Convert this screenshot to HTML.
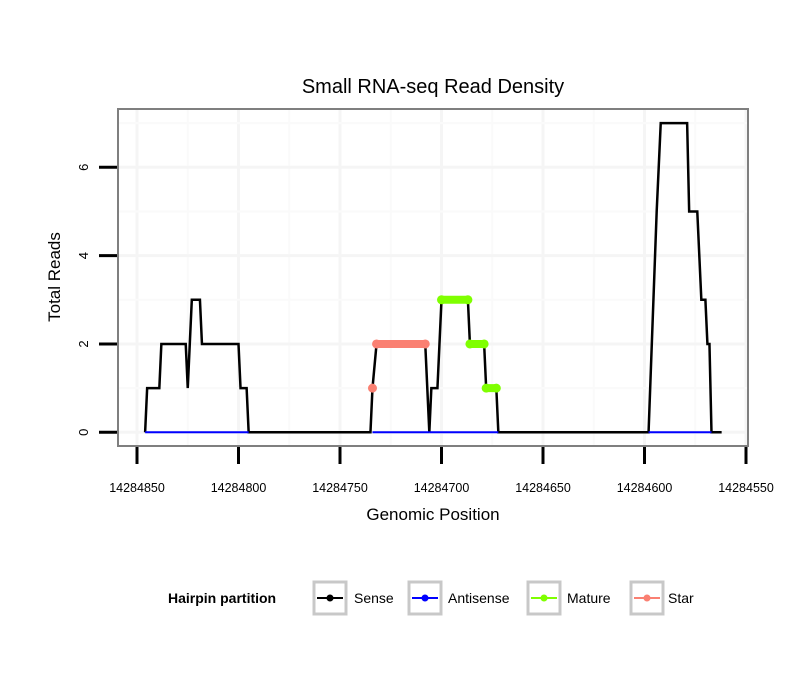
<!DOCTYPE html>
<html><head><meta charset="utf-8"><style>
body{margin:0;background:#fff;}
svg text{font-family:"Liberation Sans",sans-serif;}
</style></head><body>
<svg id="chart" width="810" height="690" xmlns="http://www.w3.org/2000/svg">
<rect width="810" height="690" fill="#fff"/>
<text x="433" y="93" font-size="20" text-anchor="middle">Small RNA-seq Read Density</text>
<g id="grid"></g>
<g id="series"></g>
<rect x="118" y="109" width="630" height="337" fill="none" stroke="#7f7f7f" stroke-width="2"/>
<g id="axes"></g>
<text x="433" y="520" font-size="17" text-anchor="middle">Genomic Position</text>
<text transform="translate(60,277) rotate(-90)" font-size="17" text-anchor="middle">Total Reads</text>
<g font-size="14">
<text x="168" y="603" font-weight="bold">Hairpin partition</text>
<g><rect x="314" y="582" width="32" height="32" fill="#fff" stroke="#c8c8c8" stroke-width="3"/><line x1="317" y1="598" x2="343" y2="598" stroke="#000" stroke-width="2"/><circle cx="330" cy="598" r="3.5" fill="#000"/><text x="354" y="603">Sense</text></g>
<g><rect x="409" y="582" width="32" height="32" fill="#fff" stroke="#c8c8c8" stroke-width="3"/><line x1="412" y1="598" x2="438" y2="598" stroke="#0000ff" stroke-width="2"/><circle cx="425" cy="598" r="3.5" fill="#0000ff"/><text x="448" y="603">Antisense</text></g>
<g><rect x="528" y="582" width="32" height="32" fill="#fff" stroke="#c8c8c8" stroke-width="3"/><line x1="531" y1="598" x2="557" y2="598" stroke="#7fff00" stroke-width="2"/><circle cx="544" cy="598" r="3.5" fill="#7fff00"/><text x="567" y="603">Mature</text></g>
<g><rect x="631" y="582" width="32" height="32" fill="#fff" stroke="#c8c8c8" stroke-width="3"/><line x1="634" y1="598" x2="660" y2="598" stroke="#fa8072" stroke-width="2"/><circle cx="647" cy="598" r="3.5" fill="#fa8072"/><text x="668" y="603">Star</text></g>
</g>
</svg>
<script>
const senseX=[14284846,14284845,14284839,14284838,14284826,14284825,14284823,14284819,14284818,14284800,14284799,14284796,14284795,14284735,14284734,14284732,14284708,14284706,14284705,14284702,14284700,14284687,14284686,14284679,14284678,14284673,14284672,14284598,14284594,14284592,14284579,14284578,14284574,14284572,14284570,14284569,14284568,14284567,14284562];
const senseY=[0,1,1,2,2,1,3,3,2,2,1,1,0,0,1,2,2,0,1,1,3,3,2,2,1,1,0,0,5,7,7,5,5,3,3,2,2,0,0];
const antisenseStart=[14284846,14284734,14284706,14284598];
const antisenseEnd=[14284795,14284706,14284672,14284567];
const matureX=[14284700,14284687,14284686,14284679,14284678,14284673];
const matureY=[3,3,2,2,1,1];
const starX=[14284734,14284732,14284708];
const starY=[1,2,2];
const xTicks=[14284850,14284800,14284750,14284700,14284650,14284600,14284550];
const yTicks=[0,2,4,6];

const NS="http://www.w3.org/2000/svg";
function xs(v){return 137+(14284850-v)*2.03;}
function ys(v){return 432.3-v*44.17;}
function mk(tag,attrs,parent){const e=document.createElementNS(NS,tag);for(const k in attrs)e.setAttribute(k,attrs[k]);parent.appendChild(e);return e;}
const grid=document.getElementById('grid'),series=document.getElementById('series'),axes=document.getElementById('axes');
mk('rect',{x:118,y:109,width:630,height:337,fill:'#fff'},grid);
for(let i=0;i<xTicks.length;i++){
  const x=xs(xTicks[i]);
  const g=mk('line',{x1:x,x2:x,y1:109,y2:446,stroke:'#f5f5f5','stroke-width':3},grid);
  
  
  if(i<xTicks.length-1){const xm=xs((xTicks[i]+xTicks[i+1])/2);
    const m=mk('line',{x1:xm,x2:xm,y1:109,y2:446,stroke:'#fafafa','stroke-width':2},grid);
    
    }
  const t=mk('line',{x1:x,x2:x,y1:447,y2:464,stroke:'#000','stroke-width':3},axes);
  
  
  const l=mk('text',{x:x,y:492,'font-size':12.5,'text-anchor':'middle'},axes);l.textContent=xTicks[i];
  
  
}
for(let v=0;v<=7;v++){
  const y=ys(v);
  const g=mk('line',{x1:118,x2:748,y1:y,y2:y,stroke:v%2?'#fafafa':'#f5f5f5','stroke-width':v%2?2:3},grid);
  
  
}
yTicks.forEach(v=>{
  const y=ys(v);
  const t=mk('line',{x1:99,x2:117,y1:y,y2:y,stroke:'#000','stroke-width':3},axes);
  
  
  const l=mk('text',{transform:`translate(88,${y}) rotate(-90)`,'font-size':13,'text-anchor':'middle'},axes);l.textContent=v;
  
  
});
const sp=senseX.map((x,i)=>xs(x)+','+ys(senseY[i])).join(' ');
const sl=mk('polyline',{points:sp,fill:'none',stroke:'#000','stroke-width':2.5},series);


for(let i=0;i<antisenseStart.length;i++){
  const a=mk('line',{x1:xs(antisenseStart[i]),x2:xs(antisenseEnd[i]),y1:ys(0),y2:ys(0),stroke:'#0000ff','stroke-width':2},series);
  
  
}
function pts(X,Y,color,name){
  for(let i=0;i<X.length;i++){
    if(i>0&&Y[i]===Y[i-1]){
      const seg=mk('line',{x1:xs(X[i-1]),x2:xs(X[i]),y1:ys(Y[i]),y2:ys(Y[i]),stroke:color,'stroke-width':8,'stroke-linecap':'round'},series);
      
      
    }
    const c=mk('circle',{cx:xs(X[i]),cy:ys(Y[i]),r:4.5,fill:color},series);
    
    
  }
}
pts(starX,starY,'#fa8072','star');
pts(matureX,matureY,'#7fff00','mature');
</script>
</body></html>
